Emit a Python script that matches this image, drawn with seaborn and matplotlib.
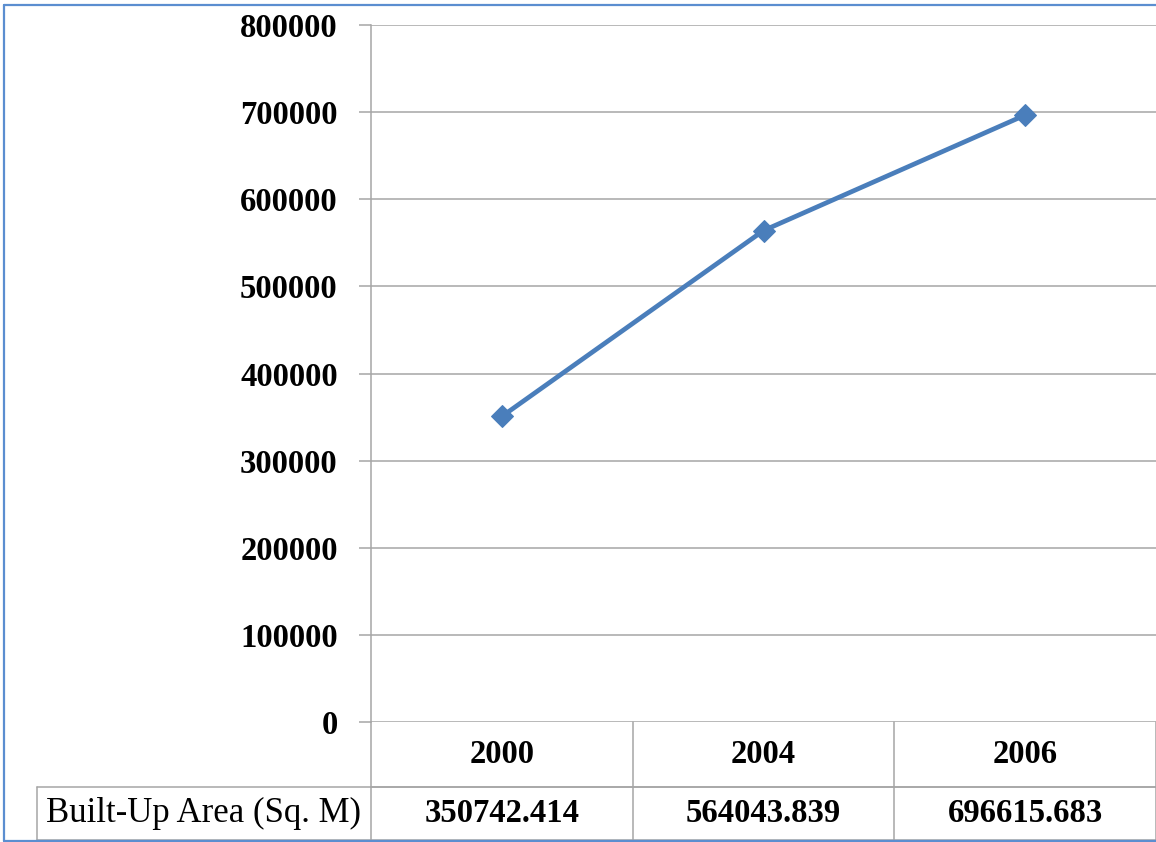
import matplotlib
matplotlib.use("Agg")
import matplotlib.pyplot as plt
import matplotlib.transforms as mtransforms
from matplotlib.lines import Line2D
import seaborn as sns
import pandas as pd

years = ["2000", "2004", "2006"]
built_up_area = [350742.414, 564043.839, 696615.683]
value_labels = ["350742.414", "564043.839", "696615.683"]
row_label = "Built-Up Area (Sq. M)"
y_ticks = [0, 100000, 200000, 300000, 400000, 500000, 600000, 700000, 800000]

df = pd.DataFrame({"year": years, "area": built_up_area})

sns.set_theme(style="white")
plt.rcParams["font.family"] = ["Liberation Serif", "DejaVu Serif"]
plt.rcParams["text.color"] = "black"
plt.rcParams["ytick.labelcolor"] = "black"

W, H = 1156, 842
fig = plt.figure(figsize=(W / 100, H / 100), dpi=100)
fig.patch.set_facecolor("white")

ax_left, ax_right = 371 / W, 1.0
ax_bottom, ax_top = (H - 722) / H, (H - 25) / H
ax = fig.add_axes([ax_left, ax_bottom, ax_right - ax_left, ax_top - ax_bottom])

line_color = "#4A7EBB"
sns.lineplot(data=df, x="year", y="area", ax=ax, color=line_color,
             linewidth=3.4, marker="D", markersize=11.5,
             markeredgecolor=line_color, markerfacecolor=line_color)

FS = 23.5
ax.set_xlim(-0.5, len(years) - 0.5)
ax.set_ylim(0, 800000)
ax.set_yticks(y_ticks)
ax.set_yticklabels([str(v) for v in y_ticks], fontsize=FS, fontweight="bold",
                   color="black")
ax.set_xticks([])
ax.set_xlabel("")
ax.set_ylabel("")
grid_color = "#A6A6A6"
ax.yaxis.grid(True, color=grid_color, linewidth=1.1)
ax.xaxis.grid(False)
ax.set_axisbelow(True)
for s in ["top", "right", "bottom"]:
    ax.spines[s].set_visible(False)
ax.spines["left"].set_color(grid_color)
ax.spines["left"].set_linewidth(1.1)
ax.tick_params(axis="y", which="major", length=9, width=1.1, color=grid_color,
               pad=15, direction="out", left=True)

# data table below the plot
tr = mtransforms.blended_transform_factory(ax.transData, fig.transFigure)
y_top = (H - 722) / H
y_mid = (H - 787) / H
y_bot = (H - 840) / H
label_left = 37 / W
n = len(years)

def fline(xs, ys, transform, **kw):
    fig.add_artist(Line2D(xs, ys, transform=transform, color=grid_color,
                          linewidth=1.1, **kw))

for b in [i - 0.5 for i in range(n + 1)]:
    fline([b, b], [y_top, y_bot], tr)
fline([-0.5, n - 0.5], [y_mid, y_mid], tr)
fline([label_left, 1.0], [y_mid, y_mid], fig.transFigure)
fline([label_left, label_left], [y_mid, y_bot], fig.transFigure)
fline([label_left, 1.0], [y_bot, y_bot], fig.transFigure)

for i, (yr, val) in enumerate(zip(years, value_labels)):
    fig.text(i, (y_top + y_mid) / 2, yr, transform=tr, ha="center", va="center",
             fontsize=FS, fontweight="bold", color="black")
    fig.text(i, (y_mid + y_bot) / 2, val, transform=tr, ha="center", va="center",
             fontsize=FS, fontweight="bold", color="black")
fig.text((label_left + ax_left) / 2, (y_mid + y_bot) / 2, row_label,
         ha="center", va="center", fontsize=25, fontweight="medium", color="black")

# outer blue border (left, top, bottom)
border_color = "#5B8ED0"
bx0, by_top, by_bot = 4 / W, (H - 5) / H, (H - 840.5) / H
for xs, ys in [([bx0, bx0], [by_bot, by_top]), ([bx0, 1.0], [by_top, by_top]),
               ([bx0, 1.0], [by_bot, by_bot])]:
    fig.add_artist(Line2D(xs, ys, transform=fig.transFigure, color=border_color,
                          linewidth=1.6))

fig.savefig("out.png", dpi=100, facecolor="white")
